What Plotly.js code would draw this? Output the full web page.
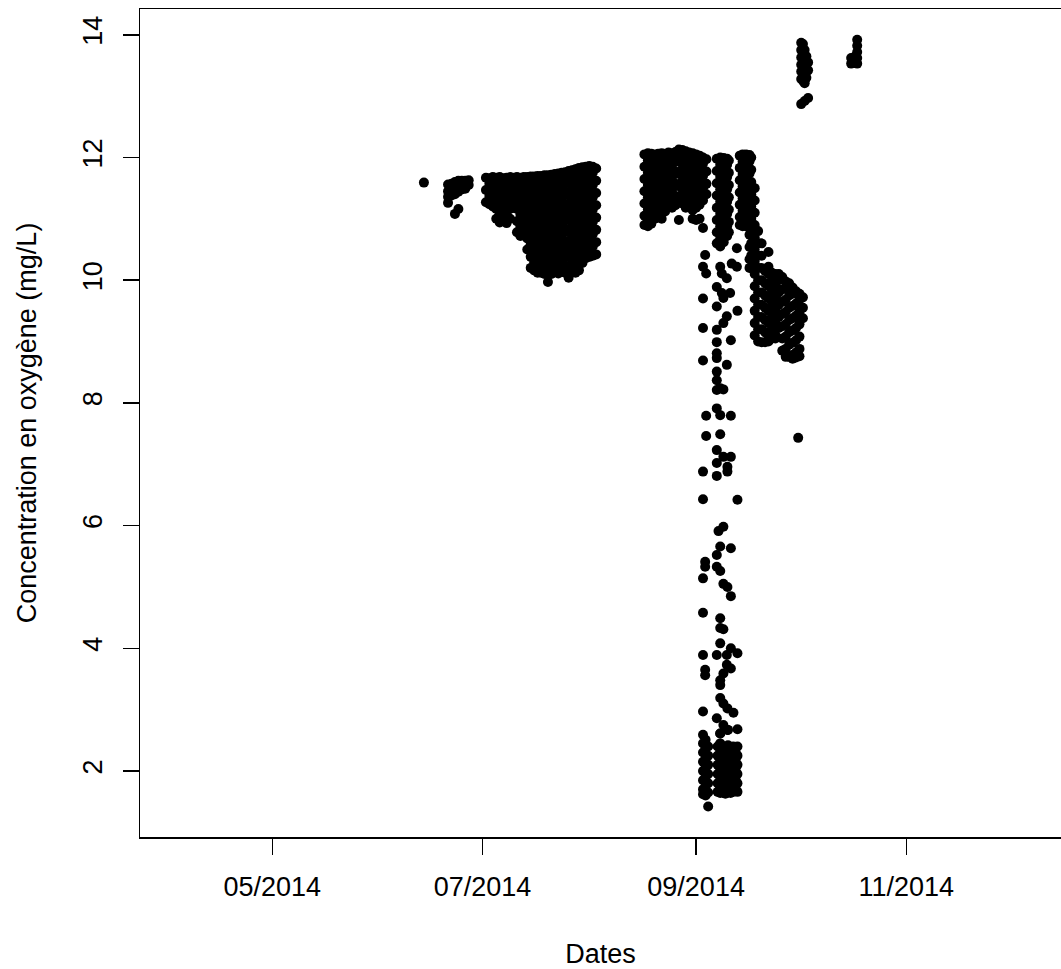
<!DOCTYPE html>
<html>
<head>
<meta charset="utf-8">
<script src="https://cdn.plot.ly/plotly-3.0.1.min.js"></script>
<style>
  html, body { margin: 0; padding: 0; background: #ffffff; overflow: hidden; }
  #chart { width: 1061px; height: 969px; }
</style>
</head>
<body>
<div id="chart"></div>
<script>
// Dissolved oxygen readings (mg/L), grouped by period: one list of readings per timestamp.
const juneDays = ['2014-06-14','2014-06-21','2014-06-22','2014-06-23','2014-06-24','2014-06-25','2014-06-26','2014-06-27'];
const juneReadings = [
  [11.59],
  [11.56, 11.45, 11.36, 11.26],
  [11.57, 11.46, 11.38],
  [11.60, 11.50, 11.40, 11.08],
  [11.62, 11.52, 11.44, 11.16],
  [11.62, 11.52, 11.48],
  [11.62, 11.54, 11.49],
  [11.63, 11.55]
];

const julyDays = ['2014-07-02','2014-07-03','2014-07-04','2014-07-05','2014-07-06','2014-07-07','2014-07-08',
  '2014-07-09','2014-07-10','2014-07-11','2014-07-12','2014-07-13','2014-07-14','2014-07-15','2014-07-16',
  '2014-07-17','2014-07-18','2014-07-19','2014-07-20','2014-07-21','2014-07-22','2014-07-23','2014-07-24',
  '2014-07-25','2014-07-26','2014-07-27','2014-07-28','2014-07-29','2014-07-30','2014-07-31','2014-08-01',
  '2014-08-02','2014-08-03'];
const julyReadings = [
  [11.67, 11.47, 11.27],
  [11.66, 11.57, 11.37, 11.24],
  [11.68, 11.48, 11.30, 11.20],
  [11.67, 11.56, 11.36, 11.16, 11.00],
  [11.68, 11.47, 11.27, 11.07, 10.94],
  [11.66, 11.57, 11.37, 11.17, 10.97],
  [11.67, 11.47, 11.27, 11.07, 10.93],
  [11.68, 11.56, 11.36, 11.16, 11.00],
  [11.67, 11.47, 11.30, 11.18],
  [11.68, 11.56, 11.36, 11.16, 10.96, 10.78],
  [11.67, 11.47, 11.27, 11.07, 10.87, 10.72],
  [11.68, 11.57, 11.37, 11.17, 10.97, 10.77],
  [11.68, 11.48, 11.28, 11.08, 10.88, 10.68, 10.50],
  [11.69, 11.58, 11.38, 11.18, 10.98, 10.78, 10.58, 10.38, 10.20],
  [11.69, 11.49, 11.29, 11.09, 10.89, 10.69, 10.49, 10.29, 10.16],
  [11.70, 11.59, 11.39, 11.19, 10.99, 10.79, 10.59, 10.39, 10.19, 10.12],
  [11.70, 11.50, 11.30, 11.10, 10.90, 10.70, 10.50, 10.30, 10.12],
  [11.71, 11.60, 11.40, 11.20, 11.00, 10.80, 10.60, 10.40, 10.20, 10.10],
  [11.71, 11.51, 11.31, 11.11, 10.91, 10.71, 10.51, 10.31, 10.13, 9.97],
  [11.72, 11.61, 11.41, 11.21, 11.01, 10.81, 10.61, 10.41, 10.21, 10.10],
  [11.73, 11.53, 11.33, 11.13, 10.93, 10.73, 10.53, 10.33, 10.14],
  [11.74, 11.62, 11.42, 11.22, 11.02, 10.82, 10.62, 10.42, 10.22, 10.11],
  [11.75, 11.55, 11.35, 11.15, 10.95, 10.75, 10.55, 10.35, 10.15],
  [11.76, 11.64, 11.44, 11.24, 11.04, 10.84, 10.64, 10.44, 10.24, 10.12],
  [11.78, 11.58, 11.38, 11.18, 10.98, 10.78, 10.58, 10.38, 10.18, 10.04],
  [11.79, 11.68, 11.48, 11.28, 11.08, 10.88, 10.68, 10.48, 10.28, 10.13],
  [11.81, 11.61, 11.41, 11.21, 11.01, 10.81, 10.61, 10.41, 10.21, 10.12],
  [11.83, 11.71, 11.51, 11.31, 11.11, 10.91, 10.71, 10.51, 10.31, 10.16],
  [11.84, 11.64, 11.44, 11.24, 11.04, 10.84, 10.64, 10.44, 10.28],
  [11.85, 11.74, 11.54, 11.34, 11.14, 10.94, 10.74, 10.54, 10.36],
  [11.86, 11.66, 11.46, 11.26, 11.06, 10.86, 10.66, 10.46, 10.38],
  [11.85, 11.75, 11.55, 11.35, 11.15, 10.95, 10.75, 10.55, 10.40],
  [11.82, 11.62, 11.42, 11.22, 11.02, 10.82, 10.62, 10.42]
];

const augustDays = ['2014-08-17','2014-08-18','2014-08-19','2014-08-20','2014-08-21','2014-08-22','2014-08-23',
  '2014-08-24','2014-08-25','2014-08-26','2014-08-27','2014-08-28','2014-08-29','2014-08-30','2014-08-31',
  '2014-09-01','2014-09-02','2014-09-03','2014-09-04'];
const augustReadings = [
  [12.05, 11.85, 11.65, 11.45, 11.25, 11.05, 10.90],
  [12.07, 11.95, 11.75, 11.55, 11.35, 11.15, 10.95, 10.88],
  [12.06, 11.86, 11.66, 11.46, 11.26, 11.06, 10.92],
  [12.05, 11.95, 11.75, 11.55, 11.35, 11.15, 11.00],
  [12.06, 11.86, 11.66, 11.46, 11.26, 11.09],
  [12.07, 11.96, 11.76, 11.56, 11.36, 11.16, 11.00],
  [12.06, 11.86, 11.66, 11.46, 11.26, 11.12],
  [12.08, 11.96, 11.76, 11.56, 11.36, 11.20],
  [12.07, 11.87, 11.67, 11.47, 11.27, 11.18],
  [12.09, 11.97, 11.77, 11.57, 11.37, 11.22],
  [12.13, 11.93, 11.73, 11.53, 11.33, 10.98],
  [12.12, 12.01, 11.81, 11.61, 11.41, 11.25],
  [12.10, 11.90, 11.70, 11.50, 11.30, 11.18],
  [12.08, 11.98, 11.78, 11.58, 11.38, 11.20],
  [12.07, 11.87, 11.67, 11.47, 11.27, 11.14, 11.00],
  [12.05, 11.95, 11.75, 11.55, 11.35, 11.18, 10.98],
  [12.03, 11.83, 11.63, 11.43, 11.23, 11.00],
  [12.00, 11.90, 11.70, 11.50, 11.30, 10.85],
  [11.97, 11.77, 11.57, 11.40]
];

// Sensor drop in early September: sparse readings between the high and low plateaus
const dropDays = ['2014-09-03 00:00','2014-09-03 15:00','2014-09-03 22:00','2014-09-07 00:00','2014-09-07 12:00',
  '2014-09-08 00:00','2014-09-08 11:00','2014-09-08 22:00','2014-09-09 22:00','2014-09-10 02:00',
  '2014-09-10 21:00','2014-09-11 02:00','2014-09-11 08:00','2014-09-11 20:00','2014-09-12 20:00',
  '2014-09-13 00:00','2014-09-30 15:00'];
const dropReadings = [
  [10.22, 9.70, 9.22, 8.69, 6.88, 6.43, 5.14, 4.58, 3.89, 2.97],
  [10.41, 5.41, 5.33, 3.65, 3.56],
  [10.11, 7.79, 7.46],
  [9.89, 9.57, 9.19, 8.99, 8.81, 8.73, 8.51, 8.37, 8.21, 7.91, 7.23, 7.02, 6.81, 5.52, 5.33, 3.89, 2.86],
  [5.91],
  [10.22, 8.24, 7.80, 7.49, 5.66, 5.26, 4.49, 4.33, 4.08, 3.48, 3.40, 3.19, 2.61],
  [10.11, 9.79],
  [9.71, 9.30, 8.22, 7.12, 5.98, 5.05, 4.31, 3.59, 3.10, 2.75],
  [10.03, 9.41, 8.62, 3.89, 3.73],
  [6.96, 6.88, 5.00, 3.02, 2.67],
  [9.79],
  [9.02, 7.79, 7.12, 5.63, 4.85, 4.00, 3.67],
  [10.27],
  [2.95],
  [10.52, 10.22],
  [9.50, 6.42, 3.92, 2.68],
  [7.43]
];

const lowDays = ['2014-09-03 00:00','2014-09-03 18:00','2014-09-04 12:00','2014-09-07 06:00','2014-09-08 00:00',
  '2014-09-08 18:00','2014-09-09 12:00','2014-09-10 06:00','2014-09-11 00:00','2014-09-11 18:00',
  '2014-09-12 12:00','2014-09-13 00:00'];
const lowReadings = [
  [2.59, 2.45, 2.30, 2.15, 2.00, 1.85, 1.70, 1.62],
  [2.51, 2.38, 2.20, 2.05, 1.90, 1.75, 1.60],
  [2.40, 2.25, 2.10, 1.95, 1.80, 1.65, 1.42],
  [2.40, 2.25, 2.10, 1.95, 1.80, 1.66],
  [2.61, 2.45, 2.30, 2.15, 2.00, 1.85, 1.70, 1.64],
  [2.40, 2.25, 2.10, 1.95, 1.80, 1.65],
  [2.38, 2.20, 2.05, 1.90, 1.75, 1.63],
  [2.67, 2.42, 2.28, 2.12, 1.97, 1.82, 1.66],
  [2.35, 2.20, 2.05, 1.90, 1.75, 1.64],
  [2.40, 2.25, 2.10, 1.95, 1.80, 1.66],
  [2.30, 2.15, 2.00, 1.85, 1.70],
  [2.40, 2.25, 2.10, 1.95, 1.80, 1.66]
];

const septemberDays = ['2014-09-07 00:00','2014-09-08 00:00','2014-09-09 00:00','2014-09-10 00:00','2014-09-10 12:00',
  '2014-09-13 16:00','2014-09-14 12:00','2014-09-15 12:00','2014-09-16 12:00','2014-09-17 00:00',
  '2014-09-18 00:00','2014-09-19 00:00'];
const septemberReadings = [
  [11.98, 11.78, 11.58, 11.38, 11.18, 10.98, 10.78, 10.60],
  [12.00, 11.88, 11.68, 11.48, 11.28, 11.08, 10.88, 10.68, 10.55],
  [11.99, 11.79, 11.59, 11.39, 11.19, 10.99, 10.79, 10.62],
  [11.98, 11.88, 11.68, 11.48, 11.28, 11.08, 10.88, 10.72],
  [11.95, 11.75, 11.55, 11.35, 11.15, 10.95, 10.78],
  [12.03, 11.83, 11.63, 11.43, 11.23, 11.03, 10.90],
  [12.05, 11.93, 11.73, 11.53, 11.33, 11.13, 10.93, 10.88],
  [12.05, 11.85, 11.65, 11.45, 11.25, 11.05, 10.88],
  [12.04, 11.94, 11.74, 11.54, 11.34, 11.14, 10.94, 10.74, 10.54, 10.34, 10.20],
  [12.00, 11.80, 11.60, 11.40, 11.20, 11.00, 10.80, 10.60, 10.40, 10.20],
  [11.50, 11.30, 11.10, 10.90, 10.70, 10.50, 10.30, 10.10, 9.90, 9.70, 9.50, 9.30, 9.10],
  [10.80, 10.60, 10.40, 10.20, 10.00, 9.80, 9.60, 9.40, 9.20, 9.00]
];

const lateSeptemberDays = ['2014-09-20','2014-09-21','2014-09-22','2014-09-23','2014-09-24','2014-09-25','2014-09-26',
  '2014-09-27','2014-09-28','2014-09-29','2014-09-30','2014-10-01','2014-10-02'];
const lateSeptemberReadings = [
  [10.60, 10.40, 10.20, 10.00, 9.80, 9.60, 9.40, 9.20, 8.99],
  [10.15, 9.95, 9.75, 9.55, 9.35, 9.15, 8.99],
  [10.46, 10.22, 10.10, 9.90, 9.70, 9.50, 9.30, 9.10, 9.00],
  [10.12, 10.00, 9.80, 9.60, 9.40, 9.20, 9.05],
  [10.10, 9.90, 9.70, 9.50, 9.30, 9.10, 9.05],
  [10.10, 10.00, 9.80, 9.60, 9.40, 9.22],
  [10.05, 9.85, 9.65, 9.45, 9.25, 9.05, 8.85],
  [9.98, 9.88, 9.68, 9.48, 9.28, 9.08, 8.88, 8.75],
  [9.95, 9.75, 9.55, 9.35, 9.15, 8.95, 8.75],
  [9.88, 9.78, 9.58, 9.38, 9.18, 8.98, 8.78, 8.72],
  [9.82, 9.62, 9.42, 9.22, 9.02, 8.82, 8.74],
  [9.78, 9.68, 9.48, 9.28, 9.08, 8.88, 8.76],
  [9.72, 9.55, 9.38]
];

// Readings after redeployment, October
const octoberDays = ['2014-10-01 12:00','2014-10-02 00:00','2014-10-02 12:00','2014-10-03 00:00','2014-10-03 12:00',
  '2014-10-16 00:00','2014-10-17 00:00','2014-10-17 18:00'];
const octoberReadings = [
  [13.87, 13.75, 13.63, 13.51, 13.40, 13.28, 12.87],
  [13.85, 13.72, 13.60, 13.48, 13.36, 13.25],
  [13.75, 13.63, 13.50, 13.38, 13.26, 13.21, 12.92],
  [13.65, 13.52, 13.40, 13.30],
  [13.55, 13.42, 12.97],
  [13.62, 13.53],
  [13.64, 13.54],
  [13.92, 13.82, 13.72, 13.62, 13.53]
];

// Axis ticks
const yTicks = [2, 4, 6, 8, 10, 12, 14];
const xTickDates = ['2014-05-01', '2014-07-01', '2014-09-01', '2014-11-01'];
const xTickLabels = ['05/2014', '07/2014', '09/2014', '11/2014'];

const groups = [
  [juneDays, juneReadings],
  [julyDays, julyReadings],
  [augustDays, augustReadings],
  [septemberDays, septemberReadings],
  [dropDays, dropReadings],
  [lowDays, lowReadings],
  [lateSeptemberDays, lateSeptemberReadings],
  [octoberDays, octoberReadings]
];

const xs = [];
const ys = [];
groups.forEach(([days, readings]) => {
  days.forEach((day, i) => {
    readings[i].forEach(v => { xs.push(day); ys.push(v); });
  });
});

const FONT = '"Liberation Sans", Arial, Helvetica, sans-serif';
const INK = '#000000';

const trace = {
  type: 'scatter',
  mode: 'markers',
  x: xs,
  y: ys,
  marker: { color: INK, size: 10, line: { width: 0 } },
  hoverinfo: 'skip',
  showlegend: false
};

const layout = {
  width: 1061,
  height: 969,
  margin: { l: 140, r: 0, t: 9, b: 132, pad: 0 },
  paper_bgcolor: '#ffffff',
  plot_bgcolor: '#ffffff',
  font: { family: FONT, size: 27, color: INK },
  xaxis: {
    type: 'date',
    range: ['2014-03-23 14:24', '2014-12-15 21:36'],
    tickvals: xTickDates,
    ticktext: xTickLabels,
    ticks: 'outside',
    ticklen: 16,
    tickwidth: 1.5,
    tickcolor: INK,
    ticklabelstandoff: 9,
    tickfont: { family: FONT, size: 27, color: INK },
    showline: true,
    linecolor: INK,
    linewidth: 1.5,
    mirror: true,
    showgrid: false,
    zeroline: false,
    title: { text: 'Dates', font: { family: FONT, size: 27, color: INK }, standoff: 48 }
  },
  yaxis: {
    range: [0.924, 14.42],
    tickvals: yTicks,
    ticktext: yTicks.map(String),
    tickangle: -90,
    ticks: 'outside',
    ticklen: 16,
    tickwidth: 1.5,
    tickcolor: INK,
    ticklabelstandoff: 10,
    tickfont: { family: FONT, size: 27, color: INK },
    showline: true,
    linecolor: INK,
    linewidth: 1.5,
    mirror: false,
    showgrid: false,
    zeroline: false,
    title: { text: 'Concentration en oxygène (mg/L)', font: { family: FONT, size: 27, color: INK }, standoff: 33 }
  }
};

Plotly.newPlot('chart', [trace], layout, { staticPlot: true, displayModeBar: false });
</script>
</body>
</html>
